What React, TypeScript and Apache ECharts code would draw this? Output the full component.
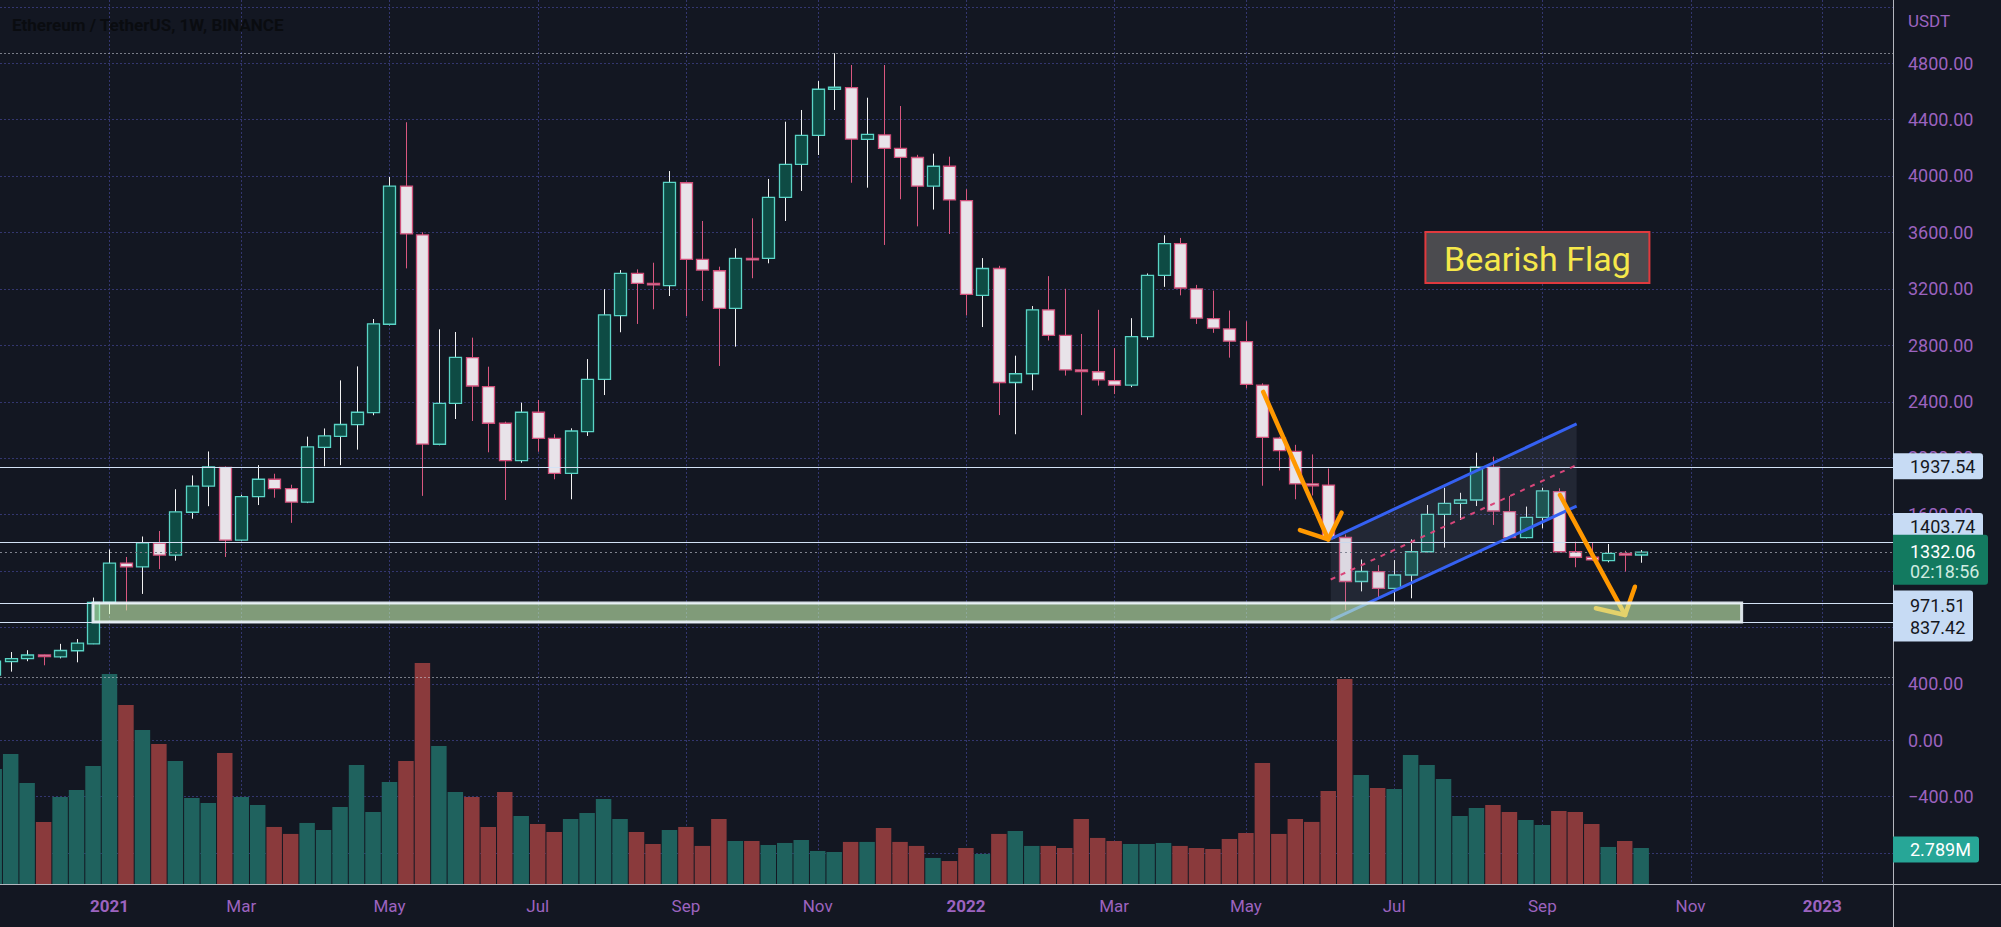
import React, { useEffect, useRef } from "react";
import * as echarts from "echarts";

// Weekly ETH/USDT candles. Week index 0 = week of 2021-01-04; first candle = week of 2020-11-16.
const FIRST_WEEK = -7;

const opens = [
  461, 556, 577, 603, 590, 633, 682, 975, 1254, 1228,
  1396, 1311, 1615, 1800, 1933, 1417, 1726, 1849, 1783, 1687,
  2075, 2153, 2236, 2321, 2948, 3927, 3581, 2097, 2387, 2711,
  2505, 2246, 1981, 2324, 2139, 1891, 2186, 2557, 3009, 3309,
  3238, 3221, 3951, 3408, 3327, 3061, 3415, 3415, 3848, 4082,
  4287, 4614, 4625, 4259, 4290, 4195, 4130, 3927, 4068, 3824,
  3153, 3343, 2535, 2597, 3050, 2869, 2624, 2611, 2548, 2516,
  2860, 3294, 3520, 3199, 2988, 2915, 2825, 2516, 2141, 2046,
  1816, 1808, 1436, 1124, 1194, 1076, 1170, 1335, 1600, 1678,
  1702, 1934, 1619, 1435, 1579, 1761, 1335, 1296, 1272, 1324,
  1312,
];
const highs = [
  563, 624, 637, 606, 682, 716, 1010, 1351, 1298, 1443,
  1482, 1778, 1876, 2046, 1940, 1740, 1949, 1888, 1810, 2151,
  2209, 2550, 2649, 2985, 3992, 4380, 3600, 2912, 2893, 2853,
  2647, 2257, 2392, 2411, 2168, 2210, 2701, 3196, 3332, 3337,
  3384, 4034, 3958, 3680, 3356, 3486, 3699, 3978, 4384, 4467,
  4672, 4869, 4786, 4554, 4786, 4495, 4149, 4157, 4136, 3905,
  3417, 3362, 2725, 3077, 3289, 3199, 2879, 3050, 2779, 2991,
  3308, 3579, 3560, 3227, 3186, 3045, 2969, 2529, 2150, 2093,
  2025, 1925, 1457, 1280, 1240, 1276, 1423, 1666, 1789, 1753,
  2037, 2009, 1730, 1655, 1789, 1785, 1406, 1399, 1390, 1342,
  1347,
];
const lows = [
  445, 485, 559, 530, 579, 551, 680, 893, 919, 1036,
  1212, 1272, 1569, 1658, 1298, 1410, 1666, 1718, 1540, 1680,
  1941, 1949, 2059, 2303, 2940, 3344, 1731, 2090, 2276, 2262,
  2040, 1702, 1966, 2044, 1849, 1707, 2156, 2446, 2891, 2950,
  3054, 3148, 3006, 3113, 2652, 2789, 3274, 3380, 3680, 3893,
  4148, 4467, 3951, 3916, 3510, 3834, 3642, 3761, 3588, 3010,
  2928, 2304, 2168, 2480, 2833, 2584, 2304, 2513, 2453, 2502,
  2838, 3213, 3153, 2950, 2887, 2711, 2494, 1803, 1911, 1707,
  1734, 1422, 921, 1054, 1003, 981, 1005, 1331, 1364, 1560,
  1659, 1525, 1430, 1430, 1501, 1335, 1225, 1272, 1260, 1194,
  1257,
];
const closes = [
  560, 577, 603, 592, 635, 687, 976, 1254, 1228, 1398,
  1311, 1618, 1800, 1936, 1417, 1726, 1849, 1783, 1687, 2078,
  2156, 2237, 2324, 2951, 3927, 3588, 2098, 2387, 2713, 2510,
  2246, 1981, 2324, 2139, 1891, 2191, 2557, 3014, 3309, 3238,
  3231, 3954, 3408, 3332, 3061, 3415, 3410, 3848, 4082, 4287,
  4614, 4628, 4261, 4294, 4195, 4131, 3927, 4068, 3829, 3159,
  3343, 2535, 2597, 3050, 2869, 2624, 2613, 2554, 2516, 2860,
  3294, 3520, 3205, 2991, 2920, 2828, 2521, 2146, 2052, 1816,
  1803, 1430, 1124, 1195, 1075, 1170, 1335, 1600, 1678, 1702,
  1934, 1624, 1435, 1579, 1766, 1335, 1296, 1277, 1324, 1312,
  1332.06,
];
// weekly volume, millions ETH
const volumes = [
  8.91, 10.08, 7.83, 4.81, 6.74, 7.29, 9.15, 16.28, 13.88, 11.94,
  10.85, 9.53, 6.67, 6.28, 10.16, 6.74, 6.12, 4.42, 3.88, 4.73,
  4.19, 5.97, 9.22, 5.58, 7.91, 9.53, 17.13, 10.7, 7.13, 6.74,
  4.42, 7.13, 5.27, 4.65, 4.03, 5.04, 5.5, 6.59, 5.04, 4.03,
  3.1, 4.19, 4.42, 2.95, 5.04, 3.33, 3.33, 3.02, 3.18, 3.41,
  2.56, 2.48, 3.26, 3.26, 4.34, 3.26, 2.95, 2.02, 1.78, 2.79,
  2.33, 3.88, 4.11, 2.95, 2.95, 2.79, 5.04, 3.57, 3.33, 3.1,
  3.1, 3.18, 2.95, 2.79, 2.71, 3.49, 3.95, 9.38, 3.88, 5.04,
  4.81, 7.21, 15.89, 8.45, 7.44, 7.36, 10.0, 9.22, 8.14, 5.27,
  5.89, 6.12, 5.58, 4.96, 4.57, 5.66, 5.58, 4.65, 2.87, 3.33,
  2.789,
];

const tickWeeks = [0, 8, 17, 26, 35, 43, 52, 61, 69, 78, 87, 96, 104];
const tickLabels = ["2021", "Mar", "May", "Jul", "Sep", "Nov", "2022", "Mar", "May", "Jul", "Sep", "Nov", "2023"];
// scale labels (those fully hidden behind the price tags are not drawn)
const priceTicks = [4800, 4400, 4000, 3600, 3200, 2800, 2400, 2000, 1600, 400, 0, -400];
const gridPrices = [5200, 4800, 4400, 4000, 3600, 3200, 2800, 2400, 2000, 1600, 1200, 800, 400, 0, -400, -800];

const levelLines = [1937.54, 1403.74, 971.51, 837.42];
const lastPrice = 1332.06;
const barCountdown = "02:18:56";
const lastVolumeText = "2.789M";
const titleText = "Ethereum / TetherUS, 1W, BINANCE";
const currencyText = "USDT";
const flagText = "Bearish Flag";

const xRange = [-6.648, 108.29];
const priceRange = [-1020.6, 5246.7];
const volumeMax = 68.5;

// drawing anchors in (week index, price)
const arrowShaft1 = [[70.05, 2468], [74.0, 1422]];
const arrowHead1 = [[72.28, 1489], [74.0, 1422], [74.81, 1612]];
const arrowShaft2 = [[88.07, 1737], [92.02, 887]];
const arrowHead2 = [[90.25, 934], [92.02, 887], [92.62, 1087]];
const channelUpper = [[74.15, 1427], [89.08, 2241]];
const channelLower = [[74.15, 849], [89.08, 1659]];
const zoneWeeks = [-1.0, 99.1];
const zonePrices = [971.51, 837.42];
const flagBox = [[79.9, 3602], [93.5, 3240]];

const BG = "#131722";
const AXIS_TEXT = "#9c63bf";
const GRID = "#33366f";
const UP_FILL = "#0e4b44";
const UP_BORDER = "#5ad4c6";
const UP_WICK = "#f2f2f2";
const DOWN_FILL = "#e8e3e9";
const DOWN_BORDER = "#cf4f79";
const DOWN_WICK = "#d9577f";
const VOL_UP = "#1f625e";
const VOL_DOWN = "#8a3a3c";
const FONT = "Roboto, 'Noto Sans', sans-serif";

const candleData = opens.map((o, i) => [i + FIRST_WEEK, o, closes[i], lows[i], highs[i]]);
const volumeData = volumes.map((v, i) => [i + FIRST_WEEK, v, closes[i] >= opens[i] ? 1 : 0]);

function buildGraphic(chart: any) {
  const P = (w: number, p: number) => chart.convertToPixel({ xAxisIndex: 0, yAxisIndex: 0 }, [w, p]) as number[];
  const PV = (v: number) => (chart.convertToPixel({ xAxisIndex: 0, yAxisIndex: 1 }, [0, v]) as number[])[1];
  const [L] = P(xRange[0], 0);
  const [R] = P(xRange[1], 0);
  const B = P(0, priceRange[0])[1];
  const Y = (p: number) => P(0, p)[1];
  const els: any[] = [];

  const hline = (y: number, stroke: string, dash: any, z: number, lw = 1) =>
    ({ type: "line", z, silent: true, shape: { x1: L, y1: y, x2: R, y2: y }, style: { stroke, lineWidth: lw, lineDash: dash } });

  // high / low price lines and current price line
  els.push(hline(Math.round(Y(Math.max(...highs))) + 0.5, "rgba(205,210,220,0.55)", [2, 2], 39));
  els.push(hline(Math.round(Y(Math.min(...lows))) + 0.5, "rgba(205,210,220,0.55)", [2, 2], 39));
  els.push(hline(Math.round(Y(lastPrice)) + 0.5, "#80848f", [2, 3], 39));
  levelLines.forEach((lv) => els.push(hline(Math.round(Y(lv)) + 0.5, "#d3e2f5", null, 40, 1.2)));

  // channel
  const u0 = P(channelUpper[0][0], channelUpper[0][1]);
  const u1 = P(channelUpper[1][0], channelUpper[1][1]);
  const l0 = P(channelLower[0][0], channelLower[0][1]);
  const l1 = P(channelLower[1][0], channelLower[1][1]);
  els.push({ type: "polygon", z: 41, silent: true, shape: { points: [u0, u1, l1, l0] }, style: { fill: "rgba(140,150,180,0.13)" } });
  const m0 = P(channelUpper[0][0], (channelUpper[0][1] + channelLower[0][1]) / 2);
  const m1 = P(channelUpper[1][0], (channelUpper[1][1] + channelLower[1][1]) / 2);
  els.push({ type: "line", z: 42, silent: true, shape: { x1: m0[0], y1: m0[1], x2: m1[0], y2: m1[1] }, style: { stroke: "#d9467a", lineWidth: 2, lineDash: [5, 6] } });
  [[u0, u1], [l0, l1]].forEach(([a, b]) =>
    els.push({ type: "line", z: 42, silent: true, shape: { x1: a[0], y1: a[1], x2: b[0], y2: b[1] }, style: { stroke: "#3561f2", lineWidth: 3 } })
  );

  // arrows
  [arrowShaft1, arrowHead1, arrowShaft2, arrowHead2].forEach((pts) =>
    els.push({
      type: "polyline", z: 43, silent: true,
      shape: { points: pts.map((q) => P(q[0], q[1])) },
      style: { stroke: "#ff9800", lineWidth: 4.5, lineCap: "round", lineJoin: "round", fill: null },
    })
  );

  // support zone
  const z0 = P(zoneWeeks[0], zonePrices[0]);
  const z1 = P(zoneWeeks[1], zonePrices[1]);
  els.push({
    type: "rect", z: 44, silent: true,
    shape: { x: z0[0], y: z0[1], width: z1[0] - z0[0], height: z1[1] - z0[1] },
    style: { fill: "rgba(207,251,184,0.58)", stroke: "rgba(232,240,246,0.92)", lineWidth: 3 },
  });

  // bearish flag label
  const f0 = P(flagBox[0][0], flagBox[0][1]);
  const f1 = P(flagBox[1][0], flagBox[1][1]);
  els.push({
    type: "rect", z: 45, silent: true,
    shape: { x: f0[0], y: f0[1], width: f1[0] - f0[0], height: f1[1] - f0[1] },
    style: { fill: "#4b4b4f", stroke: "#e03a3e", lineWidth: 2 },
  });
  els.push({
    type: "text", z: 46, silent: true,
    style: { text: flagText, x: (f0[0] + f1[0]) / 2, y: (f0[1] + f1[1]) / 2 + 1, fill: "#f6e84a", fontSize: 34, fontFamily: FONT, align: "center", verticalAlign: "middle" },
  });

  // scale separators
  els.push({ type: "line", z: 55, silent: true, shape: { x1: Math.round(R) + 0.5, y1: 0, x2: Math.round(R) + 0.5, y2: 927 }, style: { stroke: "#b3b6be", lineWidth: 1 } });
  els.push({ type: "line", z: 55, silent: true, shape: { x1: 0, y1: Math.round(B) + 0.5, x2: 2001, y2: Math.round(B) + 0.5 }, style: { stroke: "#b3b6be", lineWidth: 1 } });

  // price tags
  const tag = (top: number, h: number, w: number, fill: string, lines: any[]) => {
    els.push({ type: "rect", z: 60, silent: true, shape: { x: R, y: top, width: w, height: h, r: [0, 3, 3, 0] }, style: { fill } });
    lines.forEach((ln) =>
      els.push({ type: "text", z: 61, silent: true, style: { text: ln.text, x: R + 17, y: ln.y, fill: ln.color, fontSize: 18, fontFamily: FONT, align: "left", verticalAlign: "middle" } })
    );
  };
  const TAG_BG = "#c7dbf4";
  const TAG_TX = "#15171e";
  const yA = Y(levelLines[0]);
  tag(yA - 13.5, 26, 90, TAG_BG, [{ text: levelLines[0].toFixed(2), y: yA, color: TAG_TX }]);
  const yB = Y(levelLines[1]) - 16;
  tag(yB - 13, 26, 90, TAG_BG, [{ text: levelLines[1].toFixed(2), y: yB, color: TAG_TX }]);
  const yC = Y(levelLines[2]);
  const yD = Y(levelLines[3]);
  tag(yC - 12.5, yD - yC + 32, 80, TAG_BG, [
    { text: levelLines[2].toFixed(2), y: yC + 2, color: TAG_TX },
    { text: levelLines[3].toFixed(2), y: yD + 6, color: TAG_TX },
  ]);
  const yP = Y(lastPrice);
  tag(yP - 17.5, 50, 95, "#137a60", [
    { text: lastPrice.toFixed(2), y: yP - 1, color: "#ffffff" },
    { text: barCountdown, y: yP + 19, color: "#cfeae0" },
  ]);
  const yV = PV(volumes[volumes.length - 1]);
  tag(yV - 11.5, 26, 86, "#27a697", [{ text: lastVolumeText, y: yV + 1.5, color: "#ffffff" }]);

  // texts
  els.push({ type: "text", z: 61, silent: true, style: { text: titleText, x: 12, y: 25, fill: "#0a0c10", fontSize: 17, fontWeight: "bold", fontFamily: FONT, align: "left", verticalAlign: "middle" } });
  els.push({ type: "text", z: 61, silent: true, style: { text: currencyText, x: R + 15, y: 21, fill: AXIS_TEXT, fontSize: 17, fontFamily: FONT, align: "left", verticalAlign: "middle" } });
  return els;
}

export default function App() {
  const ref = useRef<HTMLDivElement>(null);
  useEffect(() => {
    if (!ref.current) return;
    const chart = echarts.init(ref.current, null, { renderer: "svg" });
    const option: any = {
      animation: false,
      backgroundColor: BG,
      grid: { left: 0, right: 108, top: 0, bottom: 43, containLabel: false },
      xAxis: {
        type: "value",
        min: xRange[0],
        max: xRange[1],
        axisLine: { show: false },
        axisTick: { show: false },
        splitLine: { show: false },
        axisLabel: {
          customValues: tickWeeks,
          margin: 13,
          formatter: (v: number) => {
            const i = tickWeeks.indexOf(Math.round(v));
            const t = i >= 0 ? tickLabels[i] : "";
            return /^\d{4}$/.test(t) ? `{y|${t}}` : `{m|${t}}`;
          },
          rich: {
            y: { color: AXIS_TEXT, fontSize: 17, fontWeight: "bold", fontFamily: FONT },
            m: { color: AXIS_TEXT, fontSize: 17, fontFamily: FONT },
          },
        },
      },
      yAxis: [
        {
          type: "value",
          position: "right",
          min: priceRange[0],
          max: priceRange[1],
          axisLine: { show: false },
          axisTick: { show: false },
          splitLine: { show: false },
          axisLabel: {
            customValues: priceTicks,
            margin: 15,
            align: "left",
            color: AXIS_TEXT,
            fontSize: 18,
            fontFamily: FONT,
            formatter: (v: number) => (v < 0 ? "\u2212" + Math.abs(v).toFixed(2) : v.toFixed(2)),
          },
        },
        { type: "value", min: 0, max: volumeMax, show: false },
      ],
      series: [
        {
          type: "custom",
          name: "vgrid",
          z: 1,
          silent: true,
          clip: true,
          data: tickWeeks.map((w) => [w, 0]),
          renderItem: (params: any, api: any) => {
            const x = Math.round(api.coord([api.value(0), 0])[0]) + 0.5;
            const cs = params.coordSys;
            return { type: "line", shape: { x1: x, y1: cs.y, x2: x, y2: cs.y + cs.height }, style: { stroke: GRID, lineWidth: 1, lineDash: [2, 2] } };
          },
        },
        {
          type: "custom",
          name: "hgrid",
          z: 1,
          silent: true,
          clip: true,
          data: gridPrices.map((p) => [0, p]),
          renderItem: (params: any, api: any) => {
            const y = Math.round(api.coord([0, api.value(1)])[1]) + 0.5;
            const cs = params.coordSys;
            return { type: "line", shape: { x1: cs.x, y1: y, x2: cs.x + cs.width, y2: y }, style: { stroke: GRID, lineWidth: 1, lineDash: [2, 2] } };
          },
        },
        {
          type: "custom",
          name: "Volume",
          z: 2,
          silent: true,
          clip: true,
          yAxisIndex: 1,
          data: volumeData,
          renderItem: (params: any, api: any) => {
            const w = api.value(0);
            const top = api.coord([w, api.value(1)]);
            const base = api.coord([w, 0]);
            const bw = api.size([1, 0])[0] - 1;
            return {
              type: "rect",
              shape: { x: top[0] - bw / 2, y: top[1], width: bw, height: base[1] - top[1] },
              style: { fill: api.value(2) ? VOL_UP : VOL_DOWN },
            };
          },
        },
        {
          type: "custom",
          name: "ETHUSDT",
          z: 3,
          silent: true,
          clip: true,
          data: candleData,
          renderItem: (params: any, api: any) => {
            const w = api.value(0);
            const o = api.value(1), c = api.value(2), l = api.value(3), h = api.value(4);
            const up = c >= o;
            const po = api.coord([w, o]);
            const x = Math.round(po[0]) + 0.5;
            const yo = po[1];
            const yc = api.coord([w, c])[1];
            const yl = api.coord([w, l])[1];
            const yh = api.coord([w, h])[1];
            const bw = Math.round(api.size([1, 0])[0] * 0.7);
            const top = Math.min(yo, yc);
            const hgt = Math.max(Math.abs(yo - yc), 1.5);
            return {
              type: "group",
              children: [
                { type: "line", shape: { x1: x, y1: yh, x2: x, y2: yl }, style: { stroke: up ? UP_WICK : DOWN_WICK, lineWidth: 1 } },
                { type: "rect", shape: { x: x - bw / 2, y: top, width: bw, height: hgt }, style: { fill: up ? UP_FILL : DOWN_FILL, stroke: up ? UP_BORDER : DOWN_BORDER, lineWidth: 1.3 } },
              ],
            };
          },
        },
      ],
    };
    chart.setOption(option);
    chart.setOption({ graphic: { elements: buildGraphic(chart) } });
    return () => chart.dispose();
  }, []);
  return <div ref={ref} style={{ position: "fixed", left: 0, top: 0, width: 2001, height: 927 }} />;
}
